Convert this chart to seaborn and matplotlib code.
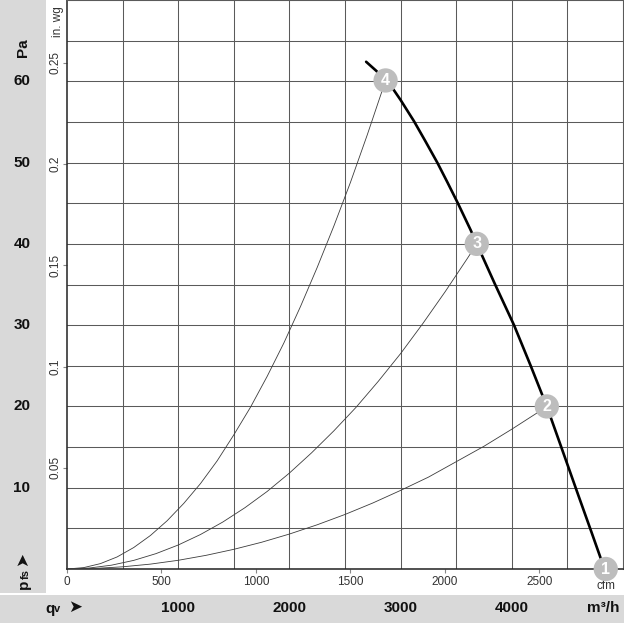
import matplotlib
matplotlib.use("Agg")
import matplotlib.pyplot as plt
import matplotlib.patches as mpatches
from matplotlib.transforms import blended_transform_factory
import seaborn as sns
import pandas as pd

# ---------------- data ----------------
# main fan curve: flow (m3/h) vs static pressure (Pa)
main_q = [2690, 2780, 2865, 2925, 3000, 3120, 3220, 3330, 3420, 3515, 3630, 3685,
          3850, 4020, 4170, 4315, 4450, 4600, 4720, 4800, 4840]
main_p = [62.4, 61.3, 60.1, 59.2, 57.7, 55.1, 52.7, 50.0, 47.6, 45.0, 41.7, 40.0,
          35.0, 30.0, 25.0, 20.0, 14.8, 9.0, 4.4, 1.3, 0.0]

# system curves through operating points 4, 3, 2
sys4_q = [0, 150, 300, 450, 600, 750, 900, 1050, 1200, 1350, 1500, 1650, 1800,
          1950, 2100, 2250, 2400, 2550, 2700, 2865]
sys4_p = [0, 0.17, 0.66, 1.48, 2.64, 4.12, 5.93, 8.07, 10.5, 13.3, 16.5, 19.9, 23.7,
          27.8, 32.3, 37.1, 42.2, 47.6, 53.4, 60.1]
sys3_q = [0, 200, 400, 600, 800, 1000, 1200, 1400, 1600, 1800, 2000, 2200, 2400,
          2600, 2800, 3000, 3200, 3400, 3600, 3685]
sys3_p = [0, 0.12, 0.47, 1.06, 1.89, 2.95, 4.24, 5.77, 7.54, 9.54, 11.8, 14.3, 17.0,
          19.9, 23.1, 26.5, 30.2, 34.1, 38.2, 40.0]
sys2_q = [0, 250, 500, 750, 1000, 1250, 1500, 1750, 2000, 2250, 2500, 2750, 3000,
          3250, 3500, 3750, 4000, 4250, 4315]
sys2_p = [0, 0.07, 0.27, 0.60, 1.07, 1.68, 2.42, 3.29, 4.30, 5.44, 6.71, 8.12, 9.67,
          11.3, 13.2, 15.1, 17.2, 19.4, 20.0]

# operating points
op_labels = ["1", "2", "3", "4"]
op_q = [4845, 4315, 3685, 2865]
op_p = [0.0, 20.0, 40.0, 60.1]

# axis ticks / labels
cfm_ticks = [0, 500, 1000, 1500, 2000, 2500]
cfm_to_m3h = 1.699
inwg_ticks = [0.05, 0.1, 0.15, 0.2, 0.25]
inwg_labels = ["0.05", "0.1", "0.15", "0.2", "0.25"]
inwg_to_pa = 249.09
pa_ticks = [10, 20, 30, 40, 50, 60]
m3h_ticks = [1000, 2000, 3000, 4000]

# ---------------- style ----------------
sns.set_style("white")
plt.rcParams["font.family"] = ["Liberation Sans", "DejaVu Sans"]

W = H = 624
fig = plt.figure(figsize=(6.24, 6.24), dpi=100)
fig.patch.set_facecolor("white")

def fx(x):
    return x / W

def fy(y):
    return 1 - y / H

GRAY = "#d9d9d9"
# grey strips
fig.add_artist(mpatches.Rectangle((0, fy(593)), fx(46), 593 / H, transform=fig.transFigure,
                                  facecolor=GRAY, edgecolor="none", zorder=0))
fig.add_artist(mpatches.Rectangle((0, fy(623)), 1, 28 / H, transform=fig.transFigure,
                                  facecolor=GRAY, edgecolor="none", zorder=0))

left, right, top, bottom = 67, 623, 0, 569
ax = fig.add_axes([fx(left), fy(bottom), (right - left) / W, (bottom - top) / H])
ax.set_facecolor("white")
ax.set_xlim(0, 5000)
ax.set_ylim(0, 70)

# grid via minor ticks
ax.set_xticks(range(0, 5001, 500), minor=True)
ax.set_yticks([i * 5 for i in range(15)], minor=True)
ax.grid(which="minor", color="#5a5a5a", linewidth=0.75)
ax.grid(which="major", visible=False)
ax.tick_params(which="minor", length=0)
ax.set_axisbelow(True)

# cfm ticks (bottom)
ax.set_xticks([c * cfm_to_m3h for c in cfm_ticks])
ax.set_xticklabels([str(c) for c in cfm_ticks], fontsize=8.5, color="#333333")
ax.tick_params(axis="x", which="major", length=3, width=0.8, color="#888888", pad=2, direction="out")

# in. wg ticks (left)
ax.set_yticks([v * inwg_to_pa for v in inwg_ticks])
ax.set_yticklabels(inwg_labels, fontsize=8.5, color="#333333", rotation=90, va="center")
ax.tick_params(axis="y", which="major", length=3, width=0.8, color="#888888", pad=1, direction="out")
ax.tick_params(bottom=True, left=True)

for s in ["top", "right"]:
    ax.spines[s].set_color("#5a5a5a")
    ax.spines[s].set_linewidth(0.75)
for s in ["left", "bottom"]:
    ax.spines[s].set_color("#222222")
    ax.spines[s].set_linewidth(1.1)

# ---------------- curves ----------------
for q, p in [(sys4_q, sys4_p), (sys3_q, sys3_p), (sys2_q, sys2_p)]:
    sns.lineplot(x=q, y=p, ax=ax, sort=False, estimator=None, color="#3c3c3c",
                 linewidth=0.6, zorder=3)
sns.lineplot(x=main_q, y=main_p, ax=ax, sort=False, estimator=None, color="black",
             linewidth=1.9, zorder=4)

ops = pd.DataFrame({"q": op_q, "p": op_p, "lab": op_labels})
sns.scatterplot(data=ops, x="q", y="p", ax=ax, s=17.5 ** 2, color="#bdbdbd",
                edgecolor="none", linewidth=0, zorder=6, clip_on=False)
for coll in ax.collections:
    coll.set_clip_on(False)
for q, p, lab in zip(op_q, op_p, op_labels):
    ax.text(q, p, lab, ha="center", va="center", color="white", fontsize=11.5,
            fontweight="bold", zorder=7, clip_on=False)

ax.set_xlabel("")
ax.set_ylabel("")

# cfm unit label
ax.text(4845, -1.3, "cfm", ha="center", va="top", fontsize=8.5, color="#333333",
        zorder=5, clip_on=False)

# ---------------- outer labels ----------------
tr_y = blended_transform_factory(fig.transFigure, ax.transData)
for v in pa_ticks:
    ax.text(fx(22), v, str(v), transform=tr_y, ha="center", va="center",
            fontsize=11, fontweight="bold", color="#111111")
fig.text(fx(23), fy(48), "Pa", rotation=90, ha="center", va="center",
         fontsize=11, fontweight="bold", color="#111111")
fig.text(fx(58), fy(22), "in. wg", rotation=90, ha="center", va="center",
         fontsize=8.5, color="#333333")

# pfs arrow
fig.text(fx(24), fy(584), "p", rotation=90, ha="center", va="center",
         fontsize=11, fontweight="bold", color="#111111")
fig.text(fx(25.5), fy(574), "fs", rotation=90, ha="center", va="center",
         fontsize=8, fontweight="bold", color="#111111")
fig.text(fx(22.5), fy(559), "➤", rotation=90, ha="center", va="center",
         fontsize=12, color="#111111", family=["DejaVu Sans"])

# m3/h values in bottom strip
tr_x = blended_transform_factory(ax.transData, fig.transFigure)
for v in m3h_ticks:
    ax.text(v, fy(608), str(v), transform=tr_x, ha="center", va="center",
            fontsize=11, fontweight="bold", color="#111111")
fig.text(fx(603), fy(608), "m³/h", ha="center", va="center",
         fontsize=11, fontweight="bold", color="#111111")
fig.text(fx(49.5), fy(609.5), "q", ha="center", va="center",
         fontsize=11, fontweight="bold", color="#111111")
fig.text(fx(57.5), fy(609), "v", ha="center", va="center",
         fontsize=8, fontweight="bold", color="#111111")
fig.text(fx(75), fy(607), "➤", ha="center", va="center",
         fontsize=12, color="#111111", family=["DejaVu Sans"])

fig.savefig("out.png", dpi=100, facecolor="white")
